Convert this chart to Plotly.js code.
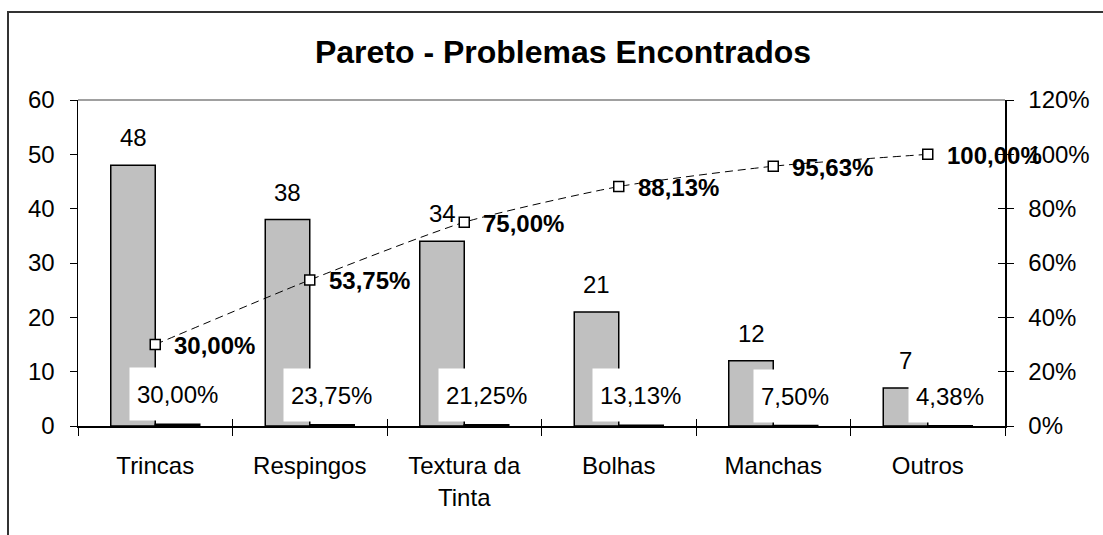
<!DOCTYPE html>
<html>
<head>
<meta charset="utf-8">
<script src="https://cdn.plot.ly/plotly-3.0.1.min.js"></script>
<style>
  html, body { margin: 0; padding: 0; background: #fff; overflow: hidden; }
  #wrap { position: relative; width: 1103px; height: 535px; overflow: hidden; }
  #chart { position: absolute; left: 0; top: 0; width: 1103px; height: 535px; }
  #frame { position: absolute; left: 7px; top: 11px; width: 1200px; height: 700px;
           border: 2px solid #333; pointer-events: none; }
</style>
</head>
<body>
<div id="wrap">
  <div id="chart"></div>
  <div id="frame"></div>
</div>
<script>
// ---- data ----
const categories = ['Trincas', 'Respingos', 'Textura da<br>Tinta', 'Bolhas', 'Manchas', 'Outros'];
const counts = [48, 38, 34, 21, 12, 7];
const sharePct = [30.00, 23.75, 21.25, 13.13, 7.50, 4.38];
const cumulativePct = [30.00, 53.75, 75.00, 88.13, 95.63, 100.00];
const leftTickVals = [0, 10, 20, 30, 40, 50, 60];
const rightTickVals = [0, 0.2, 0.4, 0.6, 0.8, 1.0, 1.2];
const rightTickText = ['0%', '20%', '40%', '60%', '80%', '100%', '120%'];
const chartTitle = 'Pareto - Problemas Encontrados';

// ---- helpers ----
const fmtPct = v => v.toFixed(2).replace('.', ',') + '%';
const shareFrac = sharePct.map(v => v / 100);
const cumFrac = cumulativePct.map(v => v / 100);

const FONT = 'Liberation Sans, Arial, sans-serif';
const W = 1103, H = 535;
const M = {l: 78, r: 98, t: 100, b: 109};
const BARGAP = 0.424;
const plotW = W - M.l - M.r;
const band = plotW / categories.length;
const barW = band * (1 - BARGAP) / 2;
const xRange = [-0.5, categories.length - 0.5];

const traces = [
  {
    type: 'bar', x: categories, y: counts, name: 'Quantidade',
    marker: {color: '#C0C0C0', line: {color: '#000', width: 1.5}},
    hoverinfo: 'skip'
  },
  {
    type: 'bar', x: categories, y: shareFrac, name: '%',
    marker: {color: '#000', line: {color: '#000', width: 1.5}},
    hoverinfo: 'skip'
  },
  {
    type: 'scatter', x: categories, y: cumFrac, yaxis: 'y2', name: '% acumulado',
    mode: 'lines+markers',
    line: {color: '#000', width: 1, dash: '8px,5px', shape: 'spline', smoothing: 0.6},
    marker: {symbol: 'square', size: 10, color: '#fff', line: {color: '#000', width: 1.5}},
    hoverinfo: 'skip'
  },
  // empty trace so the overlay axes (cross ticks) are drawn
  {type: 'scatter', x: [], y: [], xaxis: 'x2', yaxis: 'y3', hoverinfo: 'skip', showlegend: false}
];

const annotations = [];
categories.forEach((c, i) => {
  // count labels above grey bars
  annotations.push({
    x: c, y: counts[i], xref: 'x', yref: 'y', text: String(counts[i]),
    showarrow: false, xanchor: 'center', yanchor: 'bottom',
    xshift: -barW / 2, yshift: 12,
    font: {family: FONT, size: 24, color: '#000'}
  });
  // share labels (white boxes) above black bars
  annotations.push({
    x: c, y: shareFrac[i], xref: 'x', yref: 'y', text: fmtPct(sharePct[i]),
    showarrow: false, xanchor: 'center', yanchor: 'bottom',
    xshift: barW / 2, yshift: 3,
    bgcolor: '#fff', borderpad: 7, height: 38,
    font: {family: FONT, size: 24, color: '#000'}
  });
  // cumulative labels to the right of markers
  annotations.push({
    x: c, y: cumFrac[i], xref: 'x', yref: 'y2', text: fmtPct(cumulativePct[i]),
    showarrow: false, xanchor: 'left', yanchor: 'middle',
    xshift: 17, yshift: -1,
    font: {family: FONT, size: 24, color: '#000', weight: 700}
  });
});

const boundaryVals = categories.map((_, i) => i - 0.5).concat([categories.length - 0.5]);

const layout = {
  width: W, height: H,
  margin: M,
  paper_bgcolor: '#fff', plot_bgcolor: '#fff',
  showlegend: false,
  barmode: 'group', bargap: BARGAP, bargroupgap: 0,
  font: {family: FONT, size: 24, color: '#000'},
  title: {
    text: chartTitle,
    font: {family: FONT, size: 32, color: '#000', weight: 700},
    x: 563 / W, xref: 'container', xanchor: 'center',
    y: 1 - 52 / H, yref: 'container', yanchor: 'middle'
  },
  xaxis: {
    type: 'category', tickson: 'boundaries', range: xRange, autorange: false,
    ticks: 'outside', ticklen: 8, tickwidth: 1, tickcolor: '#000',
    showline: true, linecolor: '#000', linewidth: 1.5,
    showgrid: false, zeroline: false,
    ticklabelstandoff: 18,
    tickfont: {family: FONT, size: 24, color: '#000'}
  },
  xaxis2: {
    overlaying: 'x', anchor: 'y', type: 'linear', range: xRange, autorange: false,
    tickmode: 'array', tickvals: boundaryVals,
    ticks: 'inside', ticklen: 7, tickwidth: 1, tickcolor: '#000',
    showticklabels: false, showline: false, showgrid: false, zeroline: false
  },
  yaxis: {
    range: [0, 60], autorange: false, tickmode: 'array', tickvals: leftTickVals,
    ticks: 'outside', ticklen: 7, tickwidth: 1, tickcolor: '#000',
    showline: true, linecolor: '#000', linewidth: 1.5,
    showgrid: false, zeroline: false,
    ticklabelstandoff: 10,
    tickfont: {family: FONT, size: 24, color: '#000'}
  },
  yaxis2: {
    overlaying: 'y', side: 'right', anchor: 'x',
    range: [0, 1.2], autorange: false, tickmode: 'array', tickvals: rightTickVals, ticktext: rightTickText,
    ticks: 'outside', ticklen: 7, tickwidth: 1, tickcolor: '#000',
    showline: true, linecolor: '#000', linewidth: 1.5,
    showgrid: false, zeroline: false,
    ticklabelstandoff: 10,
    tickfont: {family: FONT, size: 24, color: '#000'}
  },
  yaxis3: {
    overlaying: 'y', side: 'right', anchor: 'x',
    range: [0, 1.2], autorange: false, tickmode: 'array', tickvals: rightTickVals,
    ticks: 'inside', ticklen: 7, tickwidth: 1, tickcolor: '#000',
    showticklabels: false, showline: false, showgrid: false, zeroline: false
  },
  shapes: [
    {type: 'line', xref: 'paper', yref: 'paper', x0: 0, x1: 1, y0: 1, y1: 1,
     line: {color: '#808080', width: 1.5}}
  ],
  annotations: annotations
};

Plotly.newPlot('chart', traces, layout, {displayModeBar: false, staticPlot: true});
</script>
</body>
</html>
